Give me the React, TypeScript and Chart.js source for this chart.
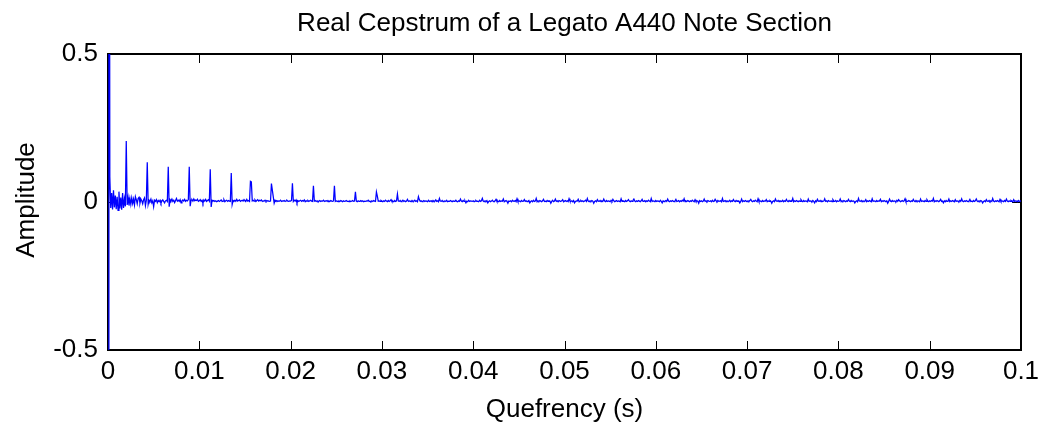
import React, { useEffect, useRef } from "react";
import { Chart, registerables } from "chart.js";

Chart.register(...registerables);

const FONT = '"Liberation Sans", Arial, Helvetica, sans-serif';

const titleText = "Real Cepstrum of a Legato A440 Note Section";
const xAxisLabel = "Quefrency (s)";
const yAxisLabel = "Amplitude";

const xTickValues = [0, 0.01, 0.02, 0.03, 0.04, 0.05, 0.06, 0.07, 0.08, 0.09, 0.1];
const xTickLabels = ["0", "0.01", "0.02", "0.03", "0.04", "0.05", "0.06", "0.07", "0.08", "0.09", "0.1"];
const yTickValues = [-0.5, 0, 0.5];
const yTickLabels = ["-0.5", "0", "0.5"];

// quefrency spacing between samples (s)
const SAMPLE_STEP = 0.0001;

// cepstrum amplitude, in thousandths (0 – 0.0099 s)
const cepstrumMilli0 = [
  -3000, 3000, 85, -20, 30, -25, 40, -18, 22, -24, 18, -28, 35, -22, 15, -26, 30, -20, 10, -15,
  206, -10, 15, -12, 12, -8, 14, -5, 10, -10, 18, 8, -6, 12, 16, -4, 10, 4, -6, 8,
  14, -12, 6, 134, -8, 6, 2, 10, -3, 4, -16, 6, 2, 8, -2, 5, 1, 6, -4, 3,
  7, 2, -3, 4, 6, 2, 119, -16, 8, 4, 10, 2, 6, -2, 5, 12, 3, 6, 2, 8,
  -3, 4, 7, 3, 9, 2, 6, 4, 8, 119, -14, 6, 8, 3, 10, 4, 7, 5, 9, 2,
];
// 0.0100 – 0.0199 s
const cepstrumMilli1 = [
  4, 8, 2, 6, -4, 7, 3, 9, 2, 5, 8, 3, 111, -17, 6, 4, 5, 2, 4, 1,
  3, 5, 2, 4, 7, 2, 3, 8, 1, 4, 6, 2, 5, 3, 2, 98, -8, 5, 3, 6,
  2, 9, 3, 5, 7, 2, 4, 6, 3, 8, 4, 2, 9, 3, 5, 2, 70, 68, 4, 6,
  3, 7, 2, 5, 8, 3, 6, 4, 7, 2, 4, 3, 6, 2, 5, 3, 4, 2, 3, 62,
  40, 18, -4, 6, 3, 5, 2, 4, 3, 6, 2, 4, 3, 5, 2, 4, 6, 3, 2, 4,
];
// 0.0200 – 0.0299 s
const cepstrumMilli2 = [
  3, 5, 63, 2, 6, 3, 7, -3, 5, 2, 4, 6, 2, 5, 3, 7, 1, 4, 3, 5,
  2, 4, 6, 3, 2, 55, 3, 5, 2, 4, 1, 3, 5, 2, 4, 3, 6, 2, 4, 3,
  5, 1, 4, 2, 5, 3, 2, 4, 55, 2, 4, 3, 1, 4, 2, 5, 3, 1, 4, 2,
  3, 5, 2, 3, 1, 4, 2, 3, 5, 2, 3, 34, 3, 1, 4, 2, 3, 5, 2, 4,
  1, 3, 2, 4, 3, 6, 2, 3, 1, 4, 2, 5, 3, 2, 34, 20, 3, 4, 2, 5,
];
// 0.0300 – 0.0399 s
const cepstrumMilli3 = [
  3, 1, 4, 2, 6, 3, 1, 5, 2, 4, 8, 2, 3, 1, 5, 2, 4, 27, 3, 2,
  5, 1, 3, 6, 2, 4, 1, 3, 9, 2, 4, 3, 1, 5, 2, 3, 6, 2, 4, 1,
  18, 8, 2, 4, 1, 3, 5, 2, 4, 3, 1, 6, 2, 3, 4, 1, 5, 2, 3, 7,
  2, 4, 1, 12, 3, 2, 5, 1, 3, 4, 2, 6, 1, 3, 2, 5, 3, 1, 4, 2,
  3, 6, 2, 1, 4, 2, 10, 3, 1, 5, 2, 4, -3, 3, 1, 6, 2, 4, 3, 2,
];
// 0.0400 – 0.0499 s
const cepstrumMilli4 = [
  4, 1, 3, 5, 2, 3, 1, 6, 2, 4, 12, 3, 1, 4, 2, 5, -3, 2, 4, 1,
  3, 6, 2, 1, 4, 9, 2, 3, 1, 5, 2, 4, 3, 10, 1, 3, 5, 2, -4, 3,
  2, 4, 1, 6, 3, 2, 5, 1, 11, 2, 4, 3, 1, 5, 2, 3, 8, 2, 4, 1,
  3, 5, -3, 2, 4, 1, 6, 2, 3, 12, 1, 4, 2, 5, 3, 1, 4, 9, 2, 3,
  1, 5, 2, 4, 3, -4, 2, 6, 1, 3, 10, 2, 4, 1, 5, 3, 2, 4, 8, 1,
];
// 0.0500 – 0.0599 s
const cepstrumMilli5 = [
  3, 5, 2, 4, 1, 11, 3, 2, 4, 1, 5, -3, 2, 4, 3, 9, 1, 3, 5, 2,
  4, 1, 3, 6, 2, 12, 3, 1, 4, 2, 5, 3, -4, 2, 4, 1, 8, 3, 2, 5,
  1, 4, 2, 10, 3, 1, 5, 2, 4, 3, 1, 6, 2, 9, 4, 1, 3, 5, 2, 4,
  3, 1, 11, 2, 4, 3, 1, 5, 2, 4, 8, 3, 1, 4, 2, 5, 10, 3, 1, 4,
  2, 5, 3, 1, 4, 9, 2, 3, 5, 1, 4, 2, 6, 3, 1, 12, 2, 4, 3, 1,
];
// 0.0600 – 0.0699 s
const cepstrumMilli6 = [
  5, 2, 4, 3, 1, 6, 2, -3, 4, 1, 3, 5, 2, 10, 3, 1, 4, 2, 5, 3,
  1, 4, 9, 2, 3, 5, 1, 4, 2, 6, 3, 11, 1, 4, 2, 5, 3, 1, 4, 2,
  6, 3, 1, 8, 2, 4, 3, -4, 5, 2, 4, 1, 3, 10, 2, 4, 1, 5, 3, 2,
  4, 1, 6, 2, 3, 9, 4, 1, 5, 2, 3, 4, 1, 12, 2, 3, 5, 1, 4, 2,
  3, 6, 1, 4, 2, 8, 3, 1, 5, 2, 4, 3, -3, 2, 10, 1, 4, 2, 5, 3,
];
// 0.0700 – 0.0799 s
const cepstrumMilli7 = [
  1, 4, 2, 5, 9, 3, 1, 4, 2, 6, 3, 1, 11, 2, 4, 3, 1, 5, 2, 4,
  3, 8, 1, 4, 2, 5, 3, -4, 2, 4, 1, 10, 3, 2, 5, 1, 4, 3, 2, 6,
  1, 4, 2, 9, 3, 1, 5, 2, 4, 3, 12, 1, 4, 2, 5, 3, 1, 4, 2, 8,
  3, 1, 5, 2, 4, 3, 1, 10, 2, 4, 3, 1, 5, 2, -3, 4, 1, 9, 3, 2,
  5, 1, 4, 2, 3, 11, 2, 4, 1, 5, 3, 2, 4, 1, 8, 3, 2, 5, 1, 4,
];
// 0.0800 – 0.0899 s
const cepstrumMilli8 = [
  2, 3, 10, 1, 4, 2, 5, 3, 1, 4, 2, 9, 3, 1, 5, 2, 4, 3, -3, 2,
  4, 1, 12, 3, 2, 5, 1, 4, 2, 3, 8, 1, 4, 2, 5, 3, 1, 11, 2, 4,
  3, 1, 5, 2, 4, 3, 9, 1, 4, 2, 5, 3, 1, 4, -4, 2, 10, 3, 1, 5,
  2, 4, 3, 1, 6, 2, 8, 4, 1, 3, 5, 2, 4, 11, 1, 3, 2, 5, 3, 1,
  4, 2, 9, 3, 1, 5, 2, 4, 3, 1, 10, 2, 4, 3, 1, 5, 2, 8, 3, 1,
];
// 0.0900 – 0.1000 s
const cepstrumMilli9 = [
  4, 2, 5, 3, 12, 1, 4, 2, 5, 3, 1, 4, 9, 2, 3, -3, 4, 1, 5, 2,
  3, 10, 1, 4, 2, 5, 3, 1, 8, 2, 4, 3, 1, 5, 2, 11, 3, 1, 4, 2,
  5, 3, 1, 4, 9, 2, 3, 1, 5, 2, 4, 10, 3, 1, 4, 2, 5, 3, -3, 2,
  4, 1, 8, 3, 2, 5, 1, 4, 2, 12, 3, 1, 4, 2, 5, 3, 1, 9, 2, 4,
  3, 1, 5, 2, 10, 3, 1, 4, 2, 5, 3, 1, 8, 2, 4, 3, 1, 5, 2, 4, 3,
];

const amplitude = [
  ...cepstrumMilli0, ...cepstrumMilli1, ...cepstrumMilli2, ...cepstrumMilli3, ...cepstrumMilli4,
  ...cepstrumMilli5, ...cepstrumMilli6, ...cepstrumMilli7, ...cepstrumMilli8, ...cepstrumMilli9,
].map((v) => v / 1000);

const TICK_LEN = 9;

const framePlugin = {
  id: "matlabFrame",
  beforeDatasetsDraw(chart: any) {
    const { ctx, chartArea, scales } = chart;
    const { left, right, top, bottom } = chartArea;
    ctx.save();
    ctx.strokeStyle = "#000";
    ctx.lineWidth = 1;
    ctx.beginPath();
    for (const v of xTickValues) {
      const px = Math.round(scales.x.getPixelForValue(v)) + 0.5;
      ctx.moveTo(px, bottom);
      ctx.lineTo(px, bottom - TICK_LEN);
      ctx.moveTo(px, top);
      ctx.lineTo(px, top + TICK_LEN);
    }
    for (const v of yTickValues) {
      const py = Math.round(scales.y.getPixelForValue(v)) + 0.5;
      ctx.moveTo(left, py);
      ctx.lineTo(left + TICK_LEN, py);
      ctx.moveTo(right, py);
      ctx.lineTo(right - TICK_LEN, py);
    }
    ctx.stroke();
    ctx.lineWidth = 2;
    ctx.strokeRect(left, top, right - left, bottom - top);
    ctx.restore();
  },
  afterDraw(chart: any) {
    const { ctx, chartArea } = chart;
    const { left, right, top, bottom } = chartArea;
    ctx.save();
    ctx.fillStyle = "#000";
    ctx.font = `26px ${FONT}`;
    ctx.textAlign = "center";
    ctx.textBaseline = "alphabetic";
    ctx.fillText(titleText, (left + right) / 2, 31);
    ctx.fillText(xAxisLabel, (left + right) / 2, 417);
    ctx.translate(34, (top + bottom) / 2 - 2);
    ctx.rotate(-Math.PI / 2);
    ctx.fillText(yAxisLabel, 0, 0);
    ctx.restore();
  },
};

export default function App() {
  const canvasRef = useRef<HTMLCanvasElement | null>(null);

  useEffect(() => {
    const canvas = canvasRef.current;
    if (!canvas) return;
    const points = amplitude.map((a, i) => ({ x: i * SAMPLE_STEP, y: a }));
    const tickFont = { family: FONT, size: 26, lineHeight: 1.2 };
    const chart = new Chart(canvas, {
      type: "line",
      data: {
        datasets: [
          {
            data: points,
            borderColor: "#0000ff",
            borderWidth: 1.25,
            pointRadius: 0,
            tension: 0,
            fill: false,
          },
        ],
      },
      options: {
        animation: false,
        responsive: false,
        devicePixelRatio: 1,
        layout: { padding: { top: 54, right: 27, bottom: 0, left: 0 } },
        plugins: {
          legend: { display: false },
          tooltip: { enabled: false },
          title: { display: false },
        },
        scales: {
          x: {
            type: "linear",
            min: 0,
            max: 0.1,
            afterBuildTicks: (axis: any) => {
              axis.ticks = xTickValues.map((v) => ({ value: v }));
            },
            afterFit: (axis: any) => {
              axis.height = 74;
            },
            ticks: {
              autoSkip: false,
              maxRotation: 0,
              minRotation: 0,
              padding: 6,
              color: "#000",
              font: tickFont,
              callback: (_v: any, i: number) => xTickLabels[i],
            },
            grid: { display: false, drawTicks: false },
            border: { display: false },
          },
          y: {
            type: "linear",
            min: -0.5,
            max: 0.5,
            afterBuildTicks: (axis: any) => {
              axis.ticks = yTickValues.map((v) => ({ value: v }));
            },
            afterFit: (axis: any) => {
              axis.width = 108;
            },
            ticks: {
              autoSkip: false,
              padding: 10,
              color: "#000",
              font: tickFont,
              callback: (_v: any, i: number) => yTickLabels[i],
            },
            grid: { display: false, drawTicks: false },
            border: { display: false },
          },
        },
      },
      plugins: [framePlugin],
    } as any);
    return () => chart.destroy();
  }, []);

  return (
    <div style={{ position: "absolute", left: 0, top: 0, width: 1048, height: 424, background: "#fff" }}>
      <canvas ref={canvasRef} width={1048} height={424} style={{ display: "block" }} />
    </div>
  );
}
